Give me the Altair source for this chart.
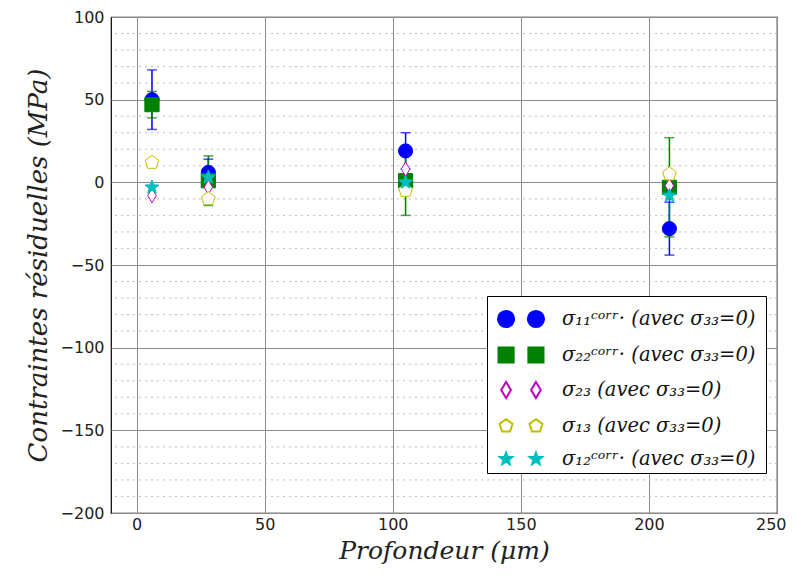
import math
import altair as alt
import pandas as pd

# ---- data ----
depth = [6, 28, 105, 208]
s11 = [50, 6, 19, -28]
s11_err = [18, 8, 11, 16]
s22 = [47, 1, 1, -3]
s22_err = [8, 15, 21, 30]
s23 = [-8, -3, 8, -2]
s13 = [12, -10, -5, 5]
s12 = [-3, 3, 0, -8]

labels = [
    "σ₁₁ᶜᵒʳʳ·  (avec σ₃₃=0)",
    "σ₂₂ᶜᵒʳʳ·  (avec σ₃₃=0)",
    "σ₂₃ (avec σ₃₃=0)",
    "σ₁₃ (avec σ₃₃=0)",
    "σ₁₂ᶜᵒʳʳ·  (avec σ₃₃=0)",
]
x_ticks = [0, 50, 100, 150, 200, 250]
y_ticks = [-200, -150, -100, -50, 0, 50, 100]
y_minor = [v for v in range(-190, 100, 10) if v % 50 != 0]

colors = ["#0000ff", "#008000", "#bf00bf", "#bfbf00", "#00bfbf"]
fills = ["#0000ff", "#008000", "white", "white", "#00bfbf"]


# ---- marker shapes (style only) ----
def poly(pts, cx=0.0, s=1.0):
    return "M" + "L".join(f"{cx + x * s:.3f},{y * s:.3f}" for x, y in pts) + "Z"


def circ(cx, r):
    return (f"M{cx - r:.3f},0A{r},{r} 0 1,0 {cx + r:.3f},0"
            f"A{r},{r} 0 1,0 {cx - r:.3f},0Z")


pent_pts = [(math.cos(math.radians(-90 + 72 * k)), math.sin(math.radians(-90 + 72 * k)))
            for k in range(5)]
star_pts = []
for k in range(10):
    rr = 1.0 if k % 2 == 0 else 0.42
    a = math.radians(-90 + 36 * k)
    star_pts.append((rr * math.cos(a), rr * math.sin(a)))
diam_pts = [(0, -1), (0.6, 0), (0, 1), (-0.6, 0)]
sq_pts = [(-1, -1), (1, -1), (1, 1), (-1, 1)]

shapes = ["circle", "square", poly(diam_pts), poly(pent_pts), poly(star_pts)]
sizes = [200, 210, 300, 230, 200]
widths = [1, 1, 2.5, 2.5, 1]

# doubled legend symbols (two markers per entry), unit box = 36 px
c = 0.83
leg_shapes = [
    circ(-c, 0.45) + circ(c, 0.45),
    poly(sq_pts, -c, 0.42) + poly(sq_pts, c, 0.42),
    poly(diam_pts, -c, 0.45) + poly(diam_pts, c, 0.45),
    poly(pent_pts, -c, 0.38) + poly(pent_pts, c, 0.38),
    poly(star_pts, -c, 0.36) + poly(star_pts, c, 0.36),
]

series_vals = [s11, s22, s23, s13, s12]
rows = []
for lab, vals in zip(labels, series_vals):
    for d, v in zip(depth, vals):
        rows.append({"depth": d, "val": v, "serie": lab})
pts = pd.DataFrame(rows)

err_rows = []
for lab, vals, errs in [(labels[0], s11, s11_err), (labels[1], s22, s22_err)]:
    for d, v, e in zip(depth, vals, errs):
        err_rows.append({"depth": d, "lo": v - e, "hi": v + e, "serie": lab})
errs_df = pd.DataFrame(err_rows)

xscale = alt.Scale(domain=[-10, 250], nice=False, zero=False)
yscale = alt.Scale(domain=[-200, 100], nice=False, zero=False)
xaxis = alt.Axis(values=x_ticks, title="Profondeur (μm)", labelFlush=5,
                 labelFlushOffset=9, titleFontSize=25, labelPadding=3, titlePadding=6)
yaxis = alt.Axis(values=y_ticks, title="Contraintes résiduelles (MPa)",
                 labelFlush=False, titleFontSize=26, labelPadding=7, titlePadding=9)

stroke_sc = alt.Scale(domain=labels, range=colors)
fill_sc = alt.Scale(domain=labels, range=fills)

leg = alt.Legend(
    title=None, orient="none", legendX=376, legendY=279,
    fillColor="white", strokeColor="black", padding=4, cornerRadius=0,
    labelFont="DejaVu Serif", labelFontStyle="italic", labelFontSize=19.5,
    labelColor="#111111", labelLimit=400, symbolSize=1296, symbolStrokeWidth=2,
    rowPadding=4, labelOffset=22, symbolOffset=11,
)

minor = alt.Chart(pd.DataFrame({"g": y_minor})).mark_rule(
    color="#bbbbbb", strokeDash=[2, 4], strokeWidth=1
).encode(y=alt.Y("g:Q", scale=yscale, axis=yaxis))

err_rule = alt.Chart(errs_df).mark_rule(strokeWidth=1.5).encode(
    x=alt.X("depth:Q", scale=xscale, axis=xaxis),
    y=alt.Y("lo:Q", scale=yscale, axis=yaxis),
    y2="hi:Q",
    stroke=alt.Stroke("serie:N", scale=stroke_sc, legend=None),
)
cap_lo = alt.Chart(errs_df).mark_tick(orient="horizontal", size=10, thickness=1.5).encode(
    x=alt.X("depth:Q", scale=xscale, axis=xaxis),
    y=alt.Y("lo:Q", scale=yscale, axis=yaxis),
    fill=alt.Fill("serie:N", scale=fill_sc, legend=None))
cap_hi = alt.Chart(errs_df).mark_tick(orient="horizontal", size=10, thickness=1.5).encode(
    x=alt.X("depth:Q", scale=xscale, axis=xaxis),
    y=alt.Y("hi:Q", scale=yscale, axis=yaxis),
    fill=alt.Fill("serie:N", scale=fill_sc, legend=None))

points = alt.Chart(pts).mark_point(opacity=1).encode(
    x=alt.X("depth:Q", scale=xscale, axis=xaxis),
    y=alt.Y("val:Q", scale=yscale, axis=yaxis),
    stroke=alt.Stroke("serie:N", scale=stroke_sc, legend=None),
    fill=alt.Fill("serie:N", scale=fill_sc, legend=None),
    shape=alt.Shape("serie:N", scale=alt.Scale(domain=labels, range=shapes), legend=None),
    size=alt.Size("serie:N", scale=alt.Scale(domain=labels, range=sizes), legend=None),
    strokeWidth=alt.StrokeWidth("serie:N", scale=alt.Scale(domain=labels, range=widths),
                                legend=None),
)

# legend-only layer: no marks drawn, gives the doubled legend symbols
legend_layer = alt.Chart(pts).transform_filter("false").mark_point(opacity=1).encode(
    x=alt.X("depth:Q", scale=xscale, axis=xaxis),
    y=alt.Y("val:Q", scale=yscale, axis=yaxis),
    stroke=alt.Stroke("serie:N", scale=alt.Scale(domain=labels, range=colors), legend=leg),
    fill=alt.Fill("serie:N", scale=alt.Scale(domain=labels, range=fills), legend=leg),
    shape=alt.Shape("serie:N", scale=alt.Scale(domain=labels, range=leg_shapes), legend=leg),
)

chart = alt.layer(minor, err_rule, cap_lo, cap_hi, points, legend_layer).resolve_scale(
    stroke="independent", fill="independent", shape="independent",
    size="independent", strokeWidth="independent",
).resolve_legend(
    stroke="independent", fill="independent", shape="independent",
).properties(
    width=666, height=496,
    autosize=alt.AutoSizeParams(type="none"),
    padding={"left": 103, "top": 9, "right": 11, "bottom": 55},
).configure_view(stroke="black", strokeWidth=1.2).configure_axis(
    grid=True, gridColor="#8c8c8c", gridWidth=1, domain=False, ticks=False,
    labelFont="DejaVu Sans", labelFontSize=16, labelColor="#222222",
    titleFont="DejaVu Serif", titleFontStyle="italic", titleFontWeight="normal",
    titleColor="#222222",
)

chart.save("out.html", embed_options={"renderer": "svg", "actions": False})
